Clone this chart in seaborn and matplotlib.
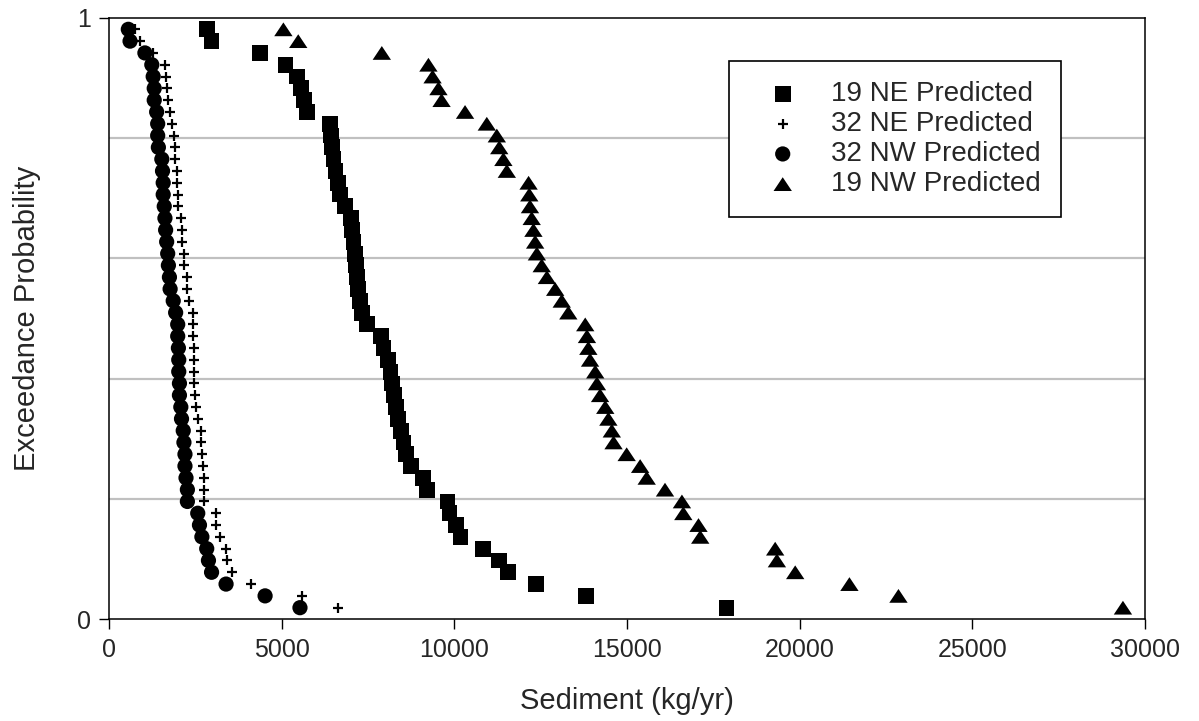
import numpy as np
import pandas as pd
import matplotlib
matplotlib.use('Agg')
import matplotlib.pyplot as plt
import seaborn as sns

# sediment values (kg/yr), 50 years per series
series_names = ['19 NE Predicted', '32 NE Predicted', '32 NW Predicted', '19 NW Predicted']

ne19 = [2830, 2970, 4370, 5110, 5450, 5550, 5640, 5740, 6410, 6430,
        6460, 6500, 6560, 6620, 6680, 6840, 7000, 7040, 7080, 7120,
        7150, 7180, 7200, 7280, 7330, 7480, 7870, 7950, 8080, 8150,
        8200, 8250, 8300, 8380, 8450, 8530, 8600, 8740, 9100, 9220,
        9800, 9860, 10050, 10180, 10820, 11300, 11560, 12370, 13820, 17880]

ne32 = [750, 900, 1280, 1620, 1640, 1690, 1720, 1770, 1830, 1890,
        1910, 1910, 1960, 1980, 2010, 2010, 2080, 2100, 2120, 2170,
        2170, 2250, 2250, 2320, 2430, 2440, 2440, 2470, 2470, 2470,
        2470, 2490, 2520, 2570, 2660, 2660, 2700, 2710, 2750, 2750,
        2750, 3100, 3100, 3200, 3390, 3410, 3550, 4100, 5580, 6640]

nw32 = [560, 610, 1040, 1240, 1280, 1310, 1310, 1380, 1410, 1410,
        1430, 1530, 1550, 1570, 1570, 1600, 1620, 1640, 1670, 1700,
        1720, 1750, 1770, 1860, 1930, 1990, 1990, 2010, 2020, 2020,
        2040, 2040, 2080, 2100, 2150, 2170, 2200, 2200, 2230, 2270,
        2270, 2570, 2620, 2690, 2830, 2880, 2970, 3390, 4520, 5530]

nw19 = [5050, 5480, 7900, 9250, 9370, 9540, 9630, 10310, 10940, 11230,
        11300, 11420, 11520, 12150, 12170, 12190, 12240, 12290, 12340, 12390,
        12530, 12680, 12920, 13110, 13300, 13790, 13840, 13880, 13930, 14080,
        14130, 14220, 14370, 14460, 14560, 14610, 14990, 15380, 15570, 16100,
        16590, 16630, 17070, 17120, 19290, 19340, 19870, 21440, 22860, 29360]

x_ticks = [0, 5000, 10000, 15000, 20000, 25000, 30000]
y_ticks = [0, 1]

# exceedance probability = rank / (n + 1)
frames = []
for name, vals in zip(series_names, [ne19, ne32, nw32, nw19]):
    d = pd.DataFrame({'series': name, 'sediment': vals})
    d['prob'] = d['sediment'].rank(method='first', ascending=False) / (len(d) + 1)
    frames.append(d)
df = pd.concat(frames, ignore_index=True)

sns.set_style('white')
plt.rcParams['font.family'] = ['Liberation Sans', 'DejaVu Sans']

fig = plt.figure(figsize=(11.99, 7.21), dpi=100)
ax = fig.add_axes([0.0909, 0.1408, 0.8641, 0.8349])

tri = [(-1, -0.75), (1, -0.75), (0, 0.75)]
styles = {
    '19 NE Predicted': dict(marker='s', s=130, edgecolor='none'),
    '32 NE Predicted': dict(marker='+', s=45, linewidth=1.6),
    '32 NW Predicted': dict(marker='o', s=120, edgecolor='none'),
    '19 NW Predicted': dict(marker=tri, s=175, edgecolor='none'),
}

for name in series_names:
    sns.scatterplot(data=df[df['series'] == name], x='sediment', y='prob',
                    color='black', label=name, ax=ax, zorder=3, **styles[name])

# gray gridlines every 0.2, labels only at 0 and 1
for g in [0.2, 0.4, 0.6, 0.8]:
    ax.axhline(g, color='#c0c0c0', lw=1.6, zorder=1)

ax.set_xlim(0, 30000)
ax.set_ylim(0, 1)
ax.set_xticks(x_ticks)
ax.set_yticks(y_ticks)
ax.tick_params(axis='both', direction='out', length=7, width=1, color='black',
               labelsize=18, pad=6, bottom=True, left=True)
for sp in ax.spines.values():
    sp.set_color('black')
    sp.set_linewidth(1.1)

ax.set_xlabel('Sediment (kg/yr)', fontsize=21, labelpad=18)
ax.set_ylabel('Exceedance Probability', fontsize=21, labelpad=26)

leg = ax.legend(loc='upper left', bbox_to_anchor=(0.598, 0.927), frameon=True,
                fancybox=False, edgecolor='black', fontsize=20, borderpad=0.7,
                labelspacing=0.15, handlelength=2.5, handletextpad=0.5,
                borderaxespad=0, framealpha=1)
leg.get_frame().set_linewidth(1.2)

fig.savefig('out.png', dpi=100)
